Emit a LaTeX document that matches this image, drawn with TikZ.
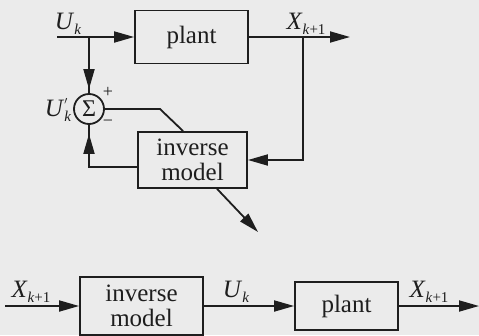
\documentclass[tikz,border=0pt]{standalone}
\usepackage{fontspec}
\setmainfont{Liberation Serif}
\usetikzlibrary{arrows.meta,calc}
\definecolor{paper}{HTML}{EBEBEB}
\definecolor{ink}{HTML}{1E1E1E}
% italic variable with a lowered index
\newcommand{\varsub}[2]{\textit{#1}\raisebox{-0.45ex}{\fontsize{15}{15}\selectfont #2}}
\begin{document}
\begin{tikzpicture}[x=1pt,y=-1pt,line width=1.8pt,color=ink,
  box/.style={draw=ink,fill=paper,rectangle,inner sep=0pt,align=center,
              font=\fontsize{25}{25}\selectfont},
  arr/.style={-{Triangle[length=20pt,width=11pt]}},
  lbl/.style={font=\fontsize{25}{25}\selectfont,inner sep=0pt},
  sign/.style={font=\fontsize{18}{18}\selectfont,inner sep=0pt}]
\useasboundingbox (0,0) rectangle (479,335);
\fill[paper] (0,0) rectangle (479,335);

% ---------- identification loop ----------
\node[box,minimum width=113pt,minimum height=53pt] (plant1) at (191.5,37) {plant};
\node[box,minimum width=109pt,minimum height=56pt] (inv1) at (192.5,160) {inverse\\model};
\node[draw=ink,circle,minimum size=30pt,inner sep=0pt,
      font=\fontsize{24}{24}\selectfont] (sum) at (89,109) {Σ};

\coordinate (uin) at (57,37);
\coordinate (j1) at (89,37);
\coordinate (j2) at (303,37);
\coordinate (yout) at (350,37);
\coordinate (bend) at (160,109);
\coordinate (tip) at (258,232);

\draw[arr] (uin) -- (plant1.west);
\draw (j1) -- (sum.north);
\draw[arr,shorten >=4pt] (j1) -- (sum.north);
\draw[arr] (plant1.east) -- (yout);
\draw[arr] (j2) |- (inv1.east);
\draw ([yshift=-7pt]inv1.west) -| (sum.south);
\draw[arr,shorten >=9pt] ([yshift=-7pt]inv1.west) -| (sum.south);
\draw (sum.east) -- (bend) -- ([xshift=46pt]inv1.north west);
\draw[arr] ([xshift=80pt]inv1.south west) -- (tip);

\node[lbl] (lu1) at (68,24) {\varsub{U}{\textit{k}}};
\node[lbl] (lx1) at (306,24) {\varsub{X}{\textit{k}+1}};
\node[lbl] (lup) at (58,110) {\textit{U}\rlap{\raisebox{0.55ex}{\fontsize{16}{16}\selectfont$'$}}\raisebox{-0.45ex}{\fontsize{15}{15}\selectfont\textit{k}}};
\node[sign] (plus) at (108,92) {+};
\node[sign] (minus) at (108,123) {−};

% ---------- inverse control chain ----------
\node[box,minimum width=123pt,minimum height=58pt] (inv2) at (141.5,306) {inverse\\model};
\node[box,minimum width=103pt,minimum height=48pt] (plant2) at (346.5,306) {plant};

\coordinate (xin) at (5,306);
\coordinate (xout) at (479,306);

\draw[arr] (xin) -- (inv2.west);
\draw[arr] (inv2.east) -- (plant2.west);
\draw[arr] (plant2.east) -- (xout);

\node[lbl] (lx2) at (31,292) {\varsub{X}{\textit{k}+1}};
\node[lbl] (lu2) at (236,292) {\varsub{U}{\textit{k}}};
\node[lbl] (lx3) at (429,292) {\varsub{X}{\textit{k}+1}};
\end{tikzpicture}
\end{document}
